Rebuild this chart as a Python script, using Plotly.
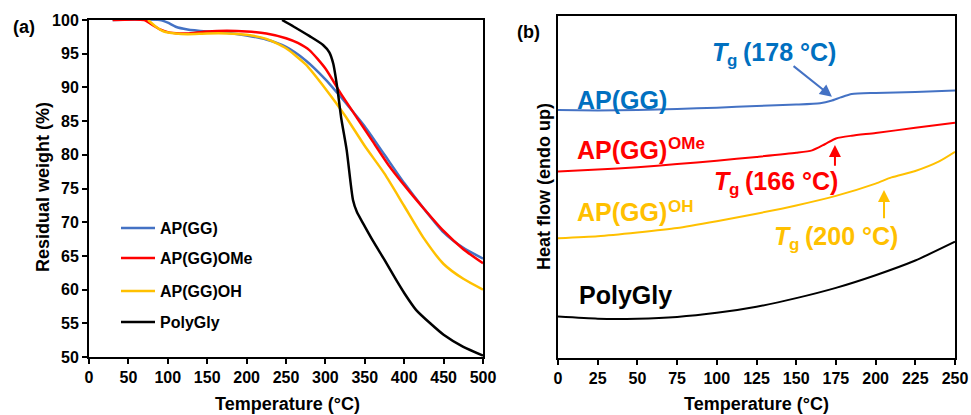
import plotly.graph_objects as go

# ---------- Panel (a): TGA ----------
t_apgg = [30, 90, 100, 110, 125, 150, 175, 200, 225, 250, 275, 300, 315, 330, 350, 375, 400, 425, 450, 475, 500]
w_apgg = [100, 100, 99.6, 99.0, 98.6, 98.3, 98.1, 97.7, 97.1, 96.0, 94.0, 91.2, 89.2, 87.1, 84.2, 80.0, 75.8, 72.0, 68.5, 66.2, 64.6]

t_ome = [30, 70, 80, 90, 100, 115, 125, 150, 175, 200, 225, 250, 265, 280, 300, 320, 340, 360, 380, 400, 425, 450, 475, 500]
w_ome = [100, 100, 99.3, 98.6, 98.2, 98.0, 98.0, 98.3, 98.4, 98.3, 98.0, 97.3, 96.6, 95.5, 92.8, 89.0, 85.5, 82.0, 78.5, 75.5, 72.0, 68.7, 66.0, 63.9]

t_oh = [75, 85, 95, 110, 125, 150, 175, 200, 225, 250, 275, 300, 325, 350, 375, 400, 425, 450, 475, 500]
w_oh = [100, 99.0, 98.3, 98.0, 97.9, 98.0, 98.0, 97.8, 97.2, 95.8, 93.4, 89.8, 85.8, 81.3, 77.2, 72.4, 67.6, 63.8, 61.6, 60.0]

t_poly = [245, 260, 280, 297, 305, 310, 315, 320, 327, 335, 340, 348, 360, 375, 390, 400, 415, 433, 450, 475, 500]
w_poly = [100, 99.0, 97.6, 96.3, 95.2, 93.5, 90.0, 85.5, 80.7, 73.3, 71.5, 69.8, 67.3, 64.4, 61.4, 59.5, 57.0, 55.0, 53.3, 51.5, 50.2]

# ---------- Panel (b): DSC (heat flow, arbitrary units) ----------
tb_apgg = [0, 25, 50, 75, 100, 125, 150, 165, 172, 178, 185, 200, 225, 250]
hb_apgg = [72.5, 72.4, 72.5, 72.8, 73.2, 73.7, 74.1, 74.5, 75.2, 76.2, 77.2, 77.5, 77.8, 78.2]

tb_ome = [0, 25, 50, 75, 100, 125, 150, 160, 168, 175, 185, 200, 225, 250]
hb_ome = [54.5, 55.1, 55.8, 56.7, 57.7, 58.8, 60.0, 60.7, 62.5, 64.2, 65.0, 65.8, 67.3, 68.8]

tb_oh = [0, 25, 50, 75, 100, 125, 150, 175, 200, 210, 225, 240, 250]
hb_oh = [35.0, 35.6, 36.7, 38.0, 40.0, 42.2, 44.6, 47.4, 51.0, 52.8, 54.7, 57.5, 60.3]

tb_poly = [0, 25, 50, 75, 100, 125, 150, 175, 200, 225, 250]
hb_poly = [12.1, 11.5, 11.5, 12.0, 13.2, 15.0, 17.5, 20.5, 24.2, 28.5, 34.0]

# Tg arrows (tail -> head) in panel (b) data units
arrow_t = [[147.4, 172.5], [174.4, 174.4], [205.3, 205.3]]
arrow_h = [[85.7, 76.4], [55.8, 62.3], [40.4, 49.1]]

names_a = ["AP(GG)", "AP(GG)OMe", "AP(GG)OH", "PolyGly"]
line_colors = ["#4472C4", "#FF0000", "#FFC000", "#000000"]
text_colors = ["#0070C0", "#FF0000", "#FFC000", "#000000"]
labels_b = ["AP(GG)", "AP(GG)", "AP(GG)", "PolyGly"]
labels_b_sup = [None, "OMe", "OH", None]
tg_values = ["(178 °C)", "(166 °C)", "(200 °C)"]

FONT = "Arial, Liberation Sans, sans-serif"

fig = go.Figure()
legend_ids = ["legend", "legend2", "legend3", "legend4"]
data_a = [(t_apgg, w_apgg), (t_ome, w_ome), (t_oh, w_oh), (t_poly, w_poly)]
for i, (t, w) in enumerate(data_a):
    fig.add_trace(go.Scatter(x=t, y=w, mode="lines", name=names_a[i],
                             line=dict(color=line_colors[i], width=2.5, shape="spline", smoothing=0.6),
                             legend=legend_ids[i], xaxis="x", yaxis="y"))

data_b = [(tb_apgg, hb_apgg), (tb_ome, hb_ome), (tb_oh, hb_oh), (tb_poly, hb_poly)]
for i, (t, h) in enumerate(data_b):
    fig.add_trace(go.Scatter(x=t, y=h, mode="lines", showlegend=False,
                             line=dict(color=line_colors[i], width=2, shape="spline", smoothing=0.6),
                             xaxis="x2", yaxis="y2"))

W, H = 971, 415
def px(x): return x / W
def py(y): return 1 - y / H

axis_common = dict(showline=True, linecolor="black", linewidth=2, mirror=True,
                   ticks="outside", ticklen=5, tickwidth=2, tickcolor="black",
                   showgrid=False, zeroline=False, automargin=False,
                   tickfont=dict(family=FONT, size=16, color="black", weight="bold"))

legend_y = [228, 258, 291, 322]
legend_cfg = {}
for i, lid in enumerate(legend_ids):
    legend_cfg[lid] = dict(x=px(116), y=py(legend_y[i]), xanchor="left", yanchor="middle",
                           bgcolor="rgba(0,0,0,0)", itemwidth=34,
                           font=dict(family=FONT, size=16, color="black", weight="bold"))

fig.update_layout(
    width=W, height=H, margin=dict(l=0, r=0, t=0, b=0, pad=0, autoexpand=False),
    paper_bgcolor="white", plot_bgcolor="white",
    font=dict(family=FONT, color="black"),
    xaxis=dict(domain=[px(89), px(483)], range=[0, 500], dtick=50, anchor="y", **axis_common),
    yaxis=dict(domain=[py(357), py(20)], range=[50, 100], dtick=5, anchor="x", **axis_common),
    xaxis2=dict(domain=[px(558), px(955)], range=[0, 250], dtick=25, anchor="y2", **axis_common),
    yaxis2=dict(domain=[py(358), py(16)], range=[0, 100], anchor="x2", showline=True, linecolor="black",
                linewidth=2, mirror=True, ticks="", showticklabels=False, showgrid=False, zeroline=False,
                automargin=False),
    showlegend=True,
    **legend_cfg,
)

ann = []
def txt(x, y, s, size, color="black", xanchor="center", yanchor="middle", angle=0, italic=False):
    ann.append(dict(x=px(x), y=py(y), text=s, xref="paper", yref="paper", showarrow=False,
                    xanchor=xanchor, yanchor=yanchor, textangle=angle,
                    font=dict(family=FONT, size=size, color=color, weight="bold",
                              style="italic" if italic else "normal")))

# panel letters and axis titles
txt(24, 27, "(a)", 18)
txt(528, 32, "(b)", 18)
txt(287, 404, "Temperature (°C)", 18)
txt(756, 404, "Temperature (°C)", 18)
txt(43, 187, "Residual weight (%)", 18, angle=-90)
txt(544, 187, "Heat flow (endo up)", 18, angle=-90)

# panel (b) curve labels (main text + separate superscript)
label_pos = [(575, 100), (575, 150), (575, 212), (577, 295)]
sup_pos = [None, (666, 143), (666, 206), None]
for i in range(4):
    txt(label_pos[i][0], label_pos[i][1], labels_b[i], 25, color=text_colors[i], xanchor="left")
    if labels_b_sup[i]:
        txt(sup_pos[i][0], sup_pos[i][1], labels_b_sup[i], 17, color=text_colors[i], xanchor="left")

# Tg labels: italic T, subscript g, value
tg_left = [(710, 52), (712, 181), (772, 236)]
for i in range(3):
    lx, ly = tg_left[i]
    txt(lx, ly, "T", 25, color=text_colors[i], xanchor="left", italic=True)
    txt(lx + 15, ly + 8, "g", 17, color=text_colors[i], xanchor="left")
    txt(lx + 31, ly, tg_values[i], 25, color=text_colors[i], xanchor="left")

# arrows (tail -> head)
arrow_colors = ["#4472C4", "#FF0000", "#FFC000"]
for i in range(3):
    ann.append(dict(x=arrow_t[i][1], y=arrow_h[i][1], ax=arrow_t[i][0], ay=arrow_h[i][0],
                    xref="x2", yref="y2", axref="x2", ayref="y2",
                    text="", showarrow=True, arrowhead=2, arrowsize=1.2, arrowwidth=2,
                    arrowcolor=arrow_colors[i]))

fig.update_layout(annotations=ann)
fig.write_html("out.html", config={"displayModeBar": False},
               post_script="document.body.style.margin='0';document.body.style.overflow='hidden';")
